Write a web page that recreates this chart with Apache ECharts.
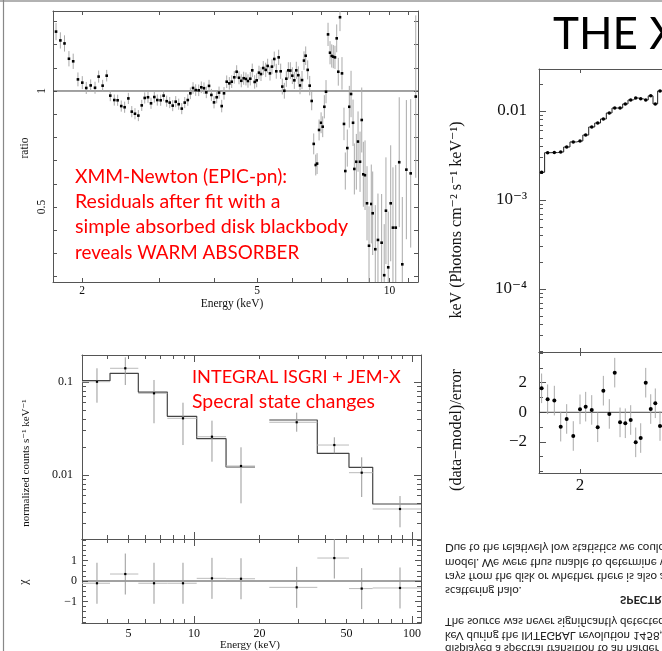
<!DOCTYPE html>
<html>
<head>
<meta charset="utf-8">
<script src="https://cdn.jsdelivr.net/npm/echarts@6/dist/echarts.min.js"></script>
<style>
html, body { margin: 0; padding: 0; background: #fff; }
#main { width: 662px; height: 651px; }
</style>
</head>
<body>
<div id="main"></div>
<script>
var lg = Math.log10;

// XMM-Newton EPIC-pn : ratio data / model
var xmmEnergy = [
  1.746, 1.786, 1.825, 1.868, 1.910, 1.958, 2.003, 2.045, 2.093, 2.141,
  2.182, 2.228, 2.276, 2.319, 2.368, 2.410, 2.456, 2.500, 2.549, 2.595,
  2.639, 2.686, 2.734, 2.777, 2.825, 2.870, 2.920, 2.966, 3.019, 3.066,
  3.115, 3.165, 3.215, 3.266, 3.318, 3.371, 3.424, 3.479, 3.526, 3.576,
  3.626, 3.684, 3.734, 3.787, 3.833, 3.888, 3.936, 3.991, 4.047, 4.097,
  4.155, 4.205, 4.265, 4.324,
  4.378, 4.437, 4.493, 4.548, 4.603, 4.661, 4.717, 4.767, 4.825, 4.875,
  4.937, 4.989, 5.050, 5.103, 5.164, 5.230, 5.284, 5.349, 5.405, 5.470,
  5.528, 5.598, 5.657, 5.705, 5.766, 5.827, 5.888, 5.950, 6.013, 6.076,
  6.139, 6.204, 6.259, 6.325, 6.391, 6.448, 6.516, 6.585,
  6.654, 6.725, 6.796, 6.844, 6.916, 6.989, 7.049, 7.109, 7.172, 7.248,
  7.324, 7.390, 7.451, 7.516, 7.584, 7.647, 7.716, 7.797, 7.879, 7.933,
  8.017, 8.102, 8.175, 8.261, 8.318, 8.405, 8.480, 8.569, 8.646, 8.718,
  8.796, 8.888, 8.981, 9.089, 9.156, 9.281, 9.412, 9.594, 9.725, 9.813,
  9.932, 10.06, 10.18, 10.33, 10.52, 10.69, 10.92, 11.17, 11.47
];
var xmmRatio = [
  1.256, 1.218, 1.205, 1.139, 1.128, 1.050, 1.036, 1.013, 1.024, 1.014,
  1.062, 1.023, 1.066, 0.980, 0.961, 0.960, 0.935, 0.930, 0.968, 0.911,
  0.902, 0.894, 0.938, 0.970, 0.973, 0.947, 0.974, 0.961, 0.960, 0.980,
  0.956, 0.950, 0.937, 0.954, 0.943, 0.924, 0.950, 0.961, 0.990, 1.013,
  1.004, 1.003, 1.016, 1.012, 0.994, 1.022, 0.983, 0.951, 0.973, 0.993,
  0.935, 0.990, 1.040, 1.033,
  1.040, 1.059, 1.083, 1.057, 1.044, 1.055, 1.052, 1.043, 1.053, 1.089,
  1.039, 1.046, 1.079, 1.073, 1.099, 1.091, 1.108, 1.076, 1.105, 1.138,
  1.085, 1.145, 1.085, 1.019, 1.001, 1.053, 1.089, 1.088, 1.066, 1.046,
  1.089, 1.068, 1.024, 1.047, 1.131, 1.152, 1.091, 1.023,
  0.957, 0.772, 0.681, 0.687, 0.832, 0.863, 0.846, 0.932, 0.997, 1.244,
  1.165, 1.151, 1.148, 1.145, 1.227, 1.083, 1.318, 1.076, 0.858, 0.655,
  0.754, 0.932, 0.987, 0.863, 0.664, 0.695, 0.782, 0.695, 0.875, 0.641,
  0.637, 0.516, 0.333, 0.513, 0.473, 0.318, 0.358, 0.346, 0.206, 0.484,
  0.240, 0.516, 0.411, 0.411, 0.693, 0.253, 0.661, 0.645, 0.976
];
var xmmError = [
  0.037, 0.035, 0.035, 0.033, 0.033, 0.030, 0.028, 0.026, 0.026, 0.026,
  0.026, 0.025, 0.025, 0.024, 0.024, 0.024, 0.024, 0.024, 0.024, 0.024,
  0.024, 0.024, 0.024, 0.024, 0.024, 0.024, 0.024, 0.024, 0.024, 0.024,
  0.024, 0.024, 0.024, 0.024, 0.024, 0.024, 0.024, 0.025, 0.025, 0.025,
  0.025, 0.025, 0.025, 0.025, 0.025, 0.026, 0.026, 0.026, 0.026, 0.026,
  0.027, 0.027, 0.027, 0.027,
  0.027, 0.027, 0.028, 0.028, 0.028, 0.028, 0.028, 0.029, 0.029, 0.029,
  0.029, 0.030, 0.030, 0.030, 0.030, 0.031, 0.031, 0.031, 0.032, 0.032,
  0.032, 0.033, 0.033, 0.034, 0.034, 0.035, 0.035, 0.036, 0.036, 0.037,
  0.037, 0.038, 0.038, 0.039, 0.040, 0.040, 0.041, 0.042,
  0.040, 0.045, 0.045, 0.045, 0.045, 0.045, 0.045, 0.050, 0.050, 0.050,
  0.050, 0.050, 0.050, 0.050, 0.060, 0.060, 0.060, 0.070, 0.070, 0.080,
  0.080, 0.090, 0.100, 0.100, 0.110, 0.120, 0.130, 0.130, 0.140, 0.140,
  0.150, 0.160, 0.170, 0.170, 0.180, 0.190, 0.200, 0.210, 0.220, 0.230,
  0.240, 0.250, 0.260, 0.270, 0.280, 0.290, 0.300, 0.320, 0.350
];
var xmmEnergyTicks = [2, 3, 4, 5, 6, 7, 8, 9, 10, 11];
var xmmEnergyLabels = [2, 5, 10];
var xmmRatioTicks = [0.2, 0.3, 0.4, 0.5, 0.6, 0.7, 0.8, 0.9, 1.0, 1.1, 1.2, 1.3];
var xmmRatioLabels = [0.5, 1];

// INTEGRAL JEM-X + ISGRI unfolded spectrum
var jemxLo = [3.064, 4.119, 5.554, 7.543, 10.29, 14.03];
var jemxHi = [4.119, 5.554, 7.543, 10.29, 14.03, 19.05];
var jemxEnergy = [3.589, 4.840, 6.555, 8.903, 12.09, 16.43];
var jemxFlux = [0.1007, 0.1404, 0.0756, 0.0407, 0.0258, 0.0125];
var jemxFluxLo = [0.0599, 0.0928, 0.0360, 0.0210, 0.0139, 0.00496];
var jemxFluxHi = [0.1404, 0.1843, 0.1051, 0.0599, 0.0384, 0.01985];
var jemxModel = [0.1033, 0.124, 0.0780, 0.0428, 0.02457, 0.01219];
var jemxChi = [-0.11, 0.34, -0.11, -0.11, 0.13, 0.11];
var isgriLo = [22.15, 36.78, 51.40, 66.04];
var isgriHi = [36.78, 51.40, 66.04, 110];
var isgriEnergy = [29.59, 44.02, 58.79, 88.1];
var isgriFlux = [0.0369, 0.0210, 0.01059, 0.00431];
var isgriFluxLo = [0.0292, 0.01711, 0.0058, 0.00274];
var isgriFluxHi = [0.0468, 0.02543, 0.0155, 0.00594];
var isgriModel = [0.03903, 0.01711, 0.01210, 0.00488];
var isgriChi = [-0.31, 1.12, -0.37, -0.34];
var intEnergyMinor = [4, 5, 6, 7, 8, 9, 20, 30, 40, 50, 60, 70, 80, 90];
var intEnergyMajor = [10, 100];
var intEnergyLabels = [5, 10, 20, 50, 100];
var intFluxMinor = [0.003, 0.004, 0.005, 0.006, 0.007, 0.008, 0.009,
  0.02, 0.03, 0.04, 0.05, 0.06, 0.07, 0.08, 0.09];
var intFluxMajor = [0.01, 0.1];
var intChiMinor = [-2, -1.75, -1.5, -1.25, -0.75, -0.5, -0.25, 0.25, 0.5, 0.75, 1.25, 1.5, 1.75, 2];
var intChiMajor = [-1, 0, 1];

// right-hand spectrum (cut by the slide edge)
var specEnergy = [1.676, 1.723, 1.777, 1.830, 1.881, 1.939, 2.000, 2.053, 2.111, 2.170,
  2.227, 2.289, 2.347, 2.405, 2.464, 2.526, 2.585, 2.645, 2.707, 2.770,
  2.829, 2.891, 2.958];
var specFlux = [0.00205, 0.00340, 0.00341, 0.00346, 0.00394, 0.00449, 0.00460, 0.00537, 0.00661, 0.00733,
  0.00813, 0.00950, 0.0108, 0.0108, 0.0120, 0.0133, 0.0140, 0.0137, 0.0133, 0.0148,
  0.0120, 0.0168, 0.0165];
var specResid = [1.62, 0.88, 0.79, -0.97, -0.45, -1.60, 0.20, 0.38, 0.16, -1.01,
  1.46, -0.11, 2.68, -0.68, -0.74, -0.52, -2.03, -1.74, 2.00, 0.22,
  0.61, -0.93, 0.50];
var specEnergyMinor = [2, 3, 4, 5, 6, 7, 8, 9];
var specEnergyMajor = [10];
var specFluxMinor = [2e-5, 3e-5, 4e-5, 5e-5, 6e-5, 7e-5, 8e-5, 9e-5,
  2e-4, 3e-4, 4e-4, 5e-4, 6e-4, 7e-4, 8e-4, 9e-4,
  2e-3, 3e-3, 4e-3, 5e-3, 6e-3, 7e-3, 8e-3, 9e-3, 0.02];
var specFluxMajor = [1e-4, 1e-3, 0.01];
var specResidMinor = [-4, -3, -1, 1, 3, 4];
var specResidMajor = [-2, 0, 2];

var AX = '#555';
var SERIF = '"Liberation Serif", "DejaVu Serif", serif';
var SANS = 'Lato, "Open Sans", sans-serif';

var chart = echarts.init(document.getElementById('main'));

function lgList(a) { return a.map(function (v) { return lg(v); }); }

function makeAxis(o) {
  var ax = {
    type: 'value', gridIndex: o.grid, position: o.pos, min: o.min, max: o.max,
    axisLine: { show: o.line !== false, onZero: false, lineStyle: { color: AX, width: 1 } },
    axisTick: { show: true, inside: true, length: o.len || 4, customValues: o.ticks,
      lineStyle: { color: AX, width: 1 } },
    axisLabel: { show: false },
    splitLine: { show: false }
  };
  if (o.labels) {
    ax.axisLabel = Object.assign({
      show: true,
      customValues: o.labels.map(function (l) { return l[0]; }),
      formatter: function (v) {
        for (var i = 0; i < o.labels.length; i++) {
          if (Math.abs(o.labels[i][0] - v) < 1e-6) return o.labels[i][1];
        }
        return '';
      },
      color: '#111', fontFamily: SERIF, fontSize: o.fs || 11, margin: o.margin || 4
    }, o.labelExtra || {});
  }
  return ax;
}

// error-bar points, pixel values clamped to the plot box
function errRender(opt) {
  return function (params, api) {
    var cs = params.coordSys;
    function cy(y) { return Math.max(cs.y, Math.min(cs.y + cs.height, y)); }
    var p = api.coord([api.value(0), api.value(1)]);
    var lo = api.coord([api.value(0), api.value(2)]);
    var hi = api.coord([api.value(0), api.value(3)]);
    var kids = [];
    if (opt.hbar) {
      var l = api.coord([api.value(4), api.value(1)]);
      var r = api.coord([api.value(5), api.value(1)]);
      kids.push({ type: 'line', shape: { x1: l[0], y1: p[1], x2: r[0], y2: p[1] },
        style: { stroke: opt.hcolor, lineWidth: 1 } });
    }
    kids.push({ type: 'line', shape: { x1: p[0], y1: cy(lo[1]), x2: p[0], y2: cy(hi[1]) },
      style: { stroke: opt.color, lineWidth: 1 } });
    if (opt.round) {
      kids.push({ type: 'circle', shape: { cx: p[0], cy: p[1], r: opt.size / 2 }, style: { fill: '#000' } });
    } else {
      kids.push({ type: 'rect', shape: { x: p[0] - opt.size / 2, y: p[1] - opt.size / 2, width: opt.size, height: opt.size },
        style: { fill: '#000' } });
    }
    return { type: 'group', children: kids };
  };
}

// grid geometry
var g0 = { left: 53, top: 11, width: 365, height: 271 };
var g1 = { left: 82, top: 355, width: 339, height: 184 };
var g2 = { left: 82, top: 539, width: 339, height: 84 };
var g3 = { left: 539, top: 69, width: 500, height: 283 };
var g4 = { left: 539, top: 352, width: 500, height: 121 };

var xmmXMin = lg(2) - 29 / 440, xmmXMax = lg(2) + 336 / 440;
var xmmYMin = 0.1767, xmmYMax = 1.3448;
var intXMin = 1 - 112 / 218, intXMax = 2 + 9 / 218;
var intYMin = -2.68817, intYMax = -0.70968;
var chiMin = -2.049, chiMax = 2.049;
var spXMin = lg(2) - 41 / 500, spXMax = spXMin + 1;
var spYMin = -4.708, spYMax = -1.528;
var rsMin = -4.101, rsMax = 4.074;

function lab(vals, fmt) { return vals.map(function (v) { return [lg(v), fmt ? fmt(v) : String(v)]; }); }

var xAxes = [
  // 0,1 : XMM
  makeAxis({ grid: 0, pos: 'bottom', min: xmmXMin, max: xmmXMax, ticks: lgList(xmmEnergyTicks),
    labels: lab(xmmEnergyLabels), fs: 11.5, margin: 3 }),
  makeAxis({ grid: 0, pos: 'top', min: xmmXMin, max: xmmXMax, ticks: lgList(xmmEnergyTicks) }),
  // 2..5 : INTEGRAL upper
  makeAxis({ grid: 1, pos: 'bottom', min: intXMin, max: intXMax, ticks: lgList(intEnergyMinor) }),
  makeAxis({ grid: 1, pos: 'bottom', min: intXMin, max: intXMax, ticks: lgList(intEnergyMajor), len: 7, line: false }),
  makeAxis({ grid: 1, pos: 'top', min: intXMin, max: intXMax, ticks: lgList(intEnergyMinor) }),
  makeAxis({ grid: 1, pos: 'top', min: intXMin, max: intXMax, ticks: lgList(intEnergyMajor), len: 7, line: false }),
  // 6..9 : INTEGRAL chi
  makeAxis({ grid: 2, pos: 'bottom', min: intXMin, max: intXMax, ticks: lgList(intEnergyMinor),
    labels: lab(intEnergyLabels), fs: 12, margin: 5 }),
  makeAxis({ grid: 2, pos: 'bottom', min: intXMin, max: intXMax, ticks: lgList(intEnergyMajor), len: 7, line: false }),
  makeAxis({ grid: 2, pos: 'top', min: intXMin, max: intXMax, ticks: lgList(intEnergyMinor) }),
  makeAxis({ grid: 2, pos: 'top', min: intXMin, max: intXMax, ticks: lgList(intEnergyMajor), len: 7, line: false }),
  // 10..11 : spectrum
  makeAxis({ grid: 3, pos: 'bottom', min: spXMin, max: spXMax, ticks: lgList(specEnergyMinor.concat(specEnergyMajor)) }),
  makeAxis({ grid: 3, pos: 'top', min: spXMin, max: spXMax, ticks: lgList(specEnergyMinor.concat(specEnergyMajor)) }),
  // 12..13 : residuals
  makeAxis({ grid: 4, pos: 'bottom', min: spXMin, max: spXMax, ticks: lgList(specEnergyMinor.concat(specEnergyMajor)),
    labels: lab([2, 5, 10]), fs: 17, margin: 4 }),
  makeAxis({ grid: 4, pos: 'top', min: spXMin, max: spXMax, ticks: lgList(specEnergyMinor.concat(specEnergyMajor)) })
];

var yAxes = [
  // 0,1 : XMM ratio
  makeAxis({ grid: 0, pos: 'left', min: xmmYMin, max: xmmYMax, ticks: xmmRatioTicks,
    labels: xmmRatioLabels.map(function (v) { return [v, String(v)]; }), fs: 11.5, margin: 5,
    labelExtra: { rotate: 90 } }),
  makeAxis({ grid: 0, pos: 'right', min: xmmYMin, max: xmmYMax, ticks: xmmRatioTicks }),
  // 2..5 : INTEGRAL flux
  makeAxis({ grid: 1, pos: 'left', min: intYMin, max: intYMax, ticks: lgList(intFluxMinor) }),
  makeAxis({ grid: 1, pos: 'left', min: intYMin, max: intYMax, ticks: lgList(intFluxMajor), len: 7, line: false,
    labels: lab(intFluxMajor), fs: 12, margin: 9 }),
  makeAxis({ grid: 1, pos: 'right', min: intYMin, max: intYMax, ticks: lgList(intFluxMinor) }),
  makeAxis({ grid: 1, pos: 'right', min: intYMin, max: intYMax, ticks: lgList(intFluxMajor), len: 7, line: false }),
  // 6..9 : chi
  makeAxis({ grid: 2, pos: 'left', min: chiMin, max: chiMax, ticks: intChiMinor }),
  makeAxis({ grid: 2, pos: 'left', min: chiMin, max: chiMax, ticks: intChiMajor, len: 6, line: false,
    labels: [[-1, '\u22121'], [0, '0'], [1, '1']], fs: 12, margin: 5 }),
  makeAxis({ grid: 2, pos: 'right', min: chiMin, max: chiMax, ticks: intChiMinor }),
  makeAxis({ grid: 2, pos: 'right', min: chiMin, max: chiMax, ticks: intChiMajor, len: 6, line: false }),
  // 10,11 : spectrum flux
  makeAxis({ grid: 3, pos: 'left', min: spYMin, max: spYMax, ticks: lgList(specFluxMinor) }),
  makeAxis({ grid: 3, pos: 'left', min: spYMin, max: spYMax, ticks: lgList(specFluxMajor), len: 7, line: false,
    labels: [[-4, '10\u207B\u2074'], [-3, '10\u207B\u00B3'], [-2, '0.01']], fs: 17, margin: 12 }),
  // 12,13 : residuals
  makeAxis({ grid: 4, pos: 'left', min: rsMin, max: rsMax, ticks: specResidMinor }),
  makeAxis({ grid: 4, pos: 'left', min: rsMin, max: rsMax, ticks: specResidMajor, len: 7, line: false,
    labels: [[-2, '\u22122'], [0, '0'], [2, '2']], fs: 17, margin: 12 })
];

function stepData(lo, hi, model) {
  var d = lo.map(function (e, i) { return [lg(e), lg(model[i])]; });
  d.push([lg(hi[hi.length - 1]), lg(model[model.length - 1])]);
  return d;
}

var intPoints = jemxEnergy.map(function (e, i) {
  return [lg(e), lg(jemxFlux[i]), lg(jemxFluxLo[i]), lg(jemxFluxHi[i]), lg(jemxLo[i]), lg(jemxHi[i])];
}).concat(isgriEnergy.map(function (e, i) {
  return [lg(e), lg(isgriFlux[i]), lg(isgriFluxLo[i]), lg(isgriFluxHi[i]), lg(isgriLo[i]), lg(isgriHi[i])];
}));
var chiPoints = jemxEnergy.map(function (e, i) {
  return [lg(e), jemxChi[i], jemxChi[i] - 1, jemxChi[i] + 1, lg(jemxLo[i]), lg(jemxHi[i])];
}).concat(isgriEnergy.map(function (e, i) {
  return [lg(e), isgriChi[i], isgriChi[i] - 1, isgriChi[i] + 1, lg(isgriLo[i]), lg(isgriHi[i])];
}));

function refLine(xi, yi, x0, x1, y) {
  return { type: 'line', xAxisIndex: xi, yAxisIndex: yi, data: [[x0, y], [x1, y]], symbol: 'none',
    silent: true, lineStyle: { color: '#444', width: 1 }, z: 1 };
}

function t(text, x, y, font, fill, align) {
  return { type: 'text', x: x, y: y, silent: true,
    style: { text: text, font: font, fill: fill || '#111', align: align || 'left', verticalAlign: 'middle' } };
}
function tv(text, x, y, font) {
  return { type: 'text', x: x, y: y, rotation: Math.PI / 2, silent: true,
    style: { text: text, font: font, fill: '#111', align: 'center', verticalAlign: 'middle' } };
}
function flip(text, x, y, font) {
  return { type: 'text', x: x, y: y, scaleY: -1, silent: true,
    style: { text: text, font: font, fill: '#222', align: 'left', verticalAlign: 'middle' } };
}

var RED = '#ff0000';
var flipFont = '11.5px ' + SANS;

var option = {
  animation: false,
  backgroundColor: '#fff',
  grid: [g0, g1, g2, g3, g4].map(function (g) {
    return Object.assign({ containLabel: false, outerBoundsMode: 'none', show: false }, g);
  }),
  xAxis: xAxes,
  yAxis: yAxes,
  series: [
    refLine(0, 0, xmmXMin, xmmXMax, 1),
    { type: 'custom', xAxisIndex: 0, yAxisIndex: 0,
      data: xmmEnergy.map(function (e, i) {
        return [lg(e), xmmRatio[i], xmmRatio[i] - xmmError[i], xmmRatio[i] + xmmError[i]];
      }),
      renderItem: errRender({ color: '#aaa', size: 2.6 }), z: 3 },
    { type: 'line', xAxisIndex: 2, yAxisIndex: 2, data: stepData(jemxLo, jemxHi, jemxModel),
      step: 'end', symbol: 'none', silent: true, lineStyle: { color: '#444', width: 1.2 }, z: 2 },
    { type: 'line', xAxisIndex: 2, yAxisIndex: 2, data: stepData(isgriLo, isgriHi, isgriModel),
      step: 'end', symbol: 'none', silent: true, lineStyle: { color: '#444', width: 1.2 }, z: 2 },
    { type: 'custom', xAxisIndex: 2, yAxisIndex: 2, data: intPoints,
      renderItem: errRender({ color: '#999', hbar: true, hcolor: '#bbb', size: 2.2 }), z: 3 },
    refLine(6, 6, intXMin, intXMax, 0),
    { type: 'custom', xAxisIndex: 6, yAxisIndex: 6, data: chiPoints,
      renderItem: errRender({ color: '#999', hbar: true, hcolor: '#bbb', size: 2.2 }), z: 3 },
    { type: 'line', xAxisIndex: 10, yAxisIndex: 10,
      data: specEnergy.map(function (e, i) { return [lg(e), lg(specFlux[i])]; }),
      step: 'middle', symbol: 'circle', symbolSize: 3.5, itemStyle: { color: '#000' },
      silent: true, lineStyle: { color: '#222', width: 1 }, z: 2 },
    refLine(12, 12, spXMin, spXMax, 0),
    { type: 'custom', xAxisIndex: 12, yAxisIndex: 12,
      data: specEnergy.map(function (e, i) { return [lg(e), specResid[i], specResid[i] - 1, specResid[i] + 1]; }),
      renderItem: errRender({ color: '#aaa', size: 4, round: true }), z: 3 }
  ],
  graphic: [
    { type: 'line', silent: true, shape: { x1: 0, y1: 1, x2: 662, y2: 1 }, style: { stroke: '#999', lineWidth: 1.5 } },
    { type: 'line', silent: true, shape: { x1: 3.5, y1: 0, x2: 3.5, y2: 651 }, style: { stroke: '#888', lineWidth: 1.2 } },
    // axis titles
    tv('ratio', 25, 148, '11.5px ' + SERIF),
    t('Energy (keV)', 232, 304, '11.5px ' + SERIF, '#111', 'center'),
    tv('normalized counts s\u207B\u00B9 keV\u207B\u00B9', 26, 463, '11px ' + SERIF),
    tv('\u03C7', 24, 582, '12px ' + SERIF),
    t('Energy (keV)', 250, 645, '11px ' + SERIF, '#111', 'center'),
    tv('keV (Photons cm\u207B\u00B2 s\u207B\u00B9 keV\u207B\u00B9)', 457, 220, '16px ' + SERIF),
    tv('(data\u2212model)/error', 457, 430, '16px ' + SERIF),
    // red annotations
    t('XMM-Newton (EPIC-pn):', 75, 177, '19.2px ' + SANS, RED),
    t('Residuals after fit with a', 75, 202, '19.5px ' + SANS, RED),
    t('simple absorbed disk blackbody', 75, 227, '19.7px ' + SANS, RED),
    t('reveals WARM ABSORBER', 75, 253, '18.8px ' + SANS, RED),
    t('INTEGRAL ISGRI + JEM-X', 192, 377, '18.2px ' + SANS, RED),
    t('Specral state changes', 192, 402, '19.4px ' + SANS, RED),
    // slide title
    t('THE X-RAY SPECTRUM', 553, 35, '44px ' + SANS, '#000'),
    // mirrored paragraph
    flip('Due to the relatively low statistics we could not constrain the', 445, 548, flipFont),
    flip('model. We were thus unable to determine whether', 445, 563, flipFont),
    flip('rays from the disk or whether there is also a', 445, 577, flipFont),
    flip('scattering halo.', 445, 591, flipFont),
    flip('SPECTRAL STATE', 620, 600, 'bold 11.5px ' + SANS),
    flip('The source was never significantly detected above', 445, 622, flipFont),
    flip('keV during the INTEGRAL revolution 1458, when it', 445, 636, flipFont),
    flip('displayed a spectral transition to an harder state', 445, 649, flipFont)
  ]
};

chart.setOption(option);
</script>
</body>
</html>
